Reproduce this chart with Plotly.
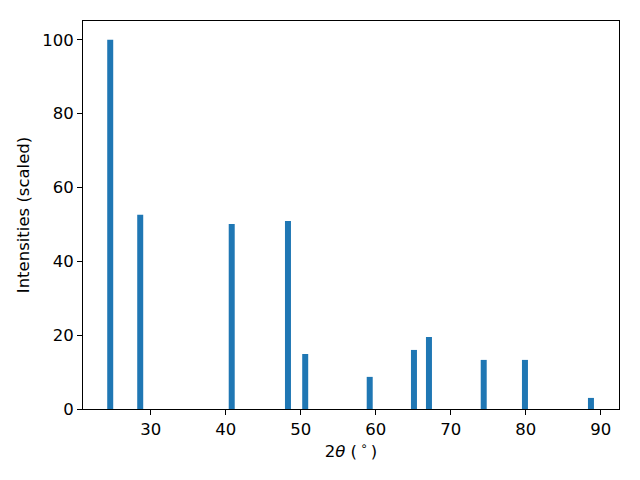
import plotly.graph_objects as go

two_theta = [24.6, 28.6, 40.8, 48.3, 50.6, 59.2, 65.1, 67.1, 74.4, 79.9, 88.7]
intensity = [100, 52.6, 50.1, 50.9, 14.9, 8.7, 16.0, 19.5, 13.3, 13.3, 3.0]

fig = go.Figure(go.Bar(x=two_theta, y=intensity, width=0.8,
                       marker=dict(color="#1f77b4", line=dict(width=0))))

axis_style = dict(showline=True, linecolor="black", linewidth=1, mirror=True,
                  ticks="outside", ticklen=5, tickwidth=1, tickcolor="black",
                  showgrid=False, zeroline=False,
                  tickfont=dict(family="DejaVu Sans", size=16.5, color="black"))

fig.update_xaxes(range=[20.97, 92.44], tickvals=[30, 40, 50, 60, 70, 80, 90],
                 title=dict(text="2<i>θ</i> (\u2009<sup>∘</sup>\u2009)", standoff=6,
                            font=dict(family="DejaVu Sans", size=16.5, color="black")),
                 **axis_style)
fig.update_yaxes(range=[0, 105.1], tickvals=[0, 20, 40, 60, 80, 100],
                 title=dict(text="Intensities (scaled)", standoff=8,
                            font=dict(family="DejaVu Sans", size=16.5, color="black")),
                 **axis_style)

fig.update_layout(width=640, height=480, plot_bgcolor="white", paper_bgcolor="white",
                  margin=dict(l=83, r=21, t=21, b=71), showlegend=False,
                  font=dict(family="DejaVu Sans"))

fig.write_html("out.html", config={"displayModeBar": False},
               post_script="document.body.style.margin='0';")
